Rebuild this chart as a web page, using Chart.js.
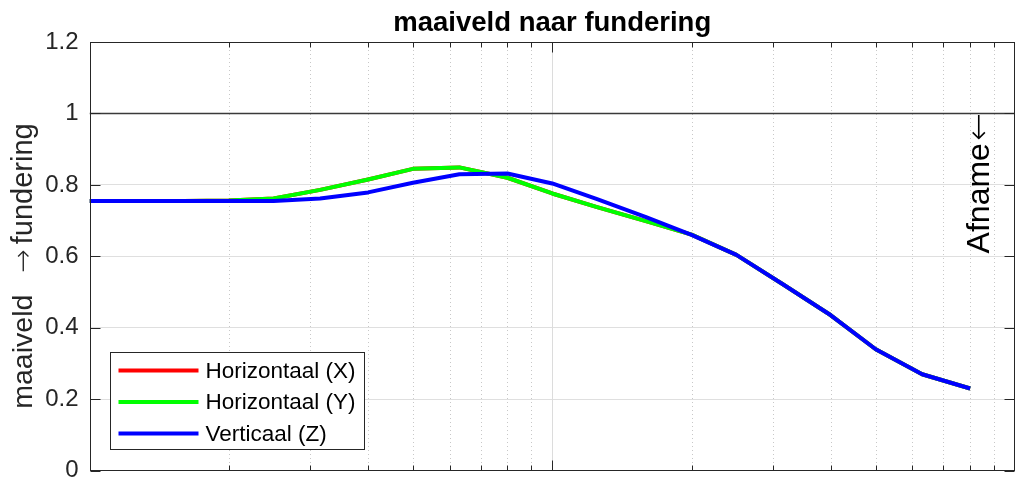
<!DOCTYPE html>
<html>
<head>
<meta charset="utf-8">
<title>maaiveld naar fundering</title>
<script src="https://cdn.jsdelivr.net/npm/chart.js@4.4.0/dist/chart.umd.min.js"></script>
<style>
  html, body { margin: 0; padding: 0; background: #fff; overflow: hidden; }
  #wrap { width: 1015px; height: 484px; }
</style>
</head>
<body>
<div id="wrap"><canvas id="chart" width="1015" height="484"></canvas></div>
<script>
// third-octave band centre frequencies (Hz)
const freqs = [1, 1.25, 1.6, 2, 2.5, 3.15, 4, 5, 6.3, 8, 10, 12.5, 16, 20, 25, 31.5, 40, 50, 63, 80];

// transfer ratio ground level -> foundation, per direction
const horX  = [0.755, 0.755, 0.755, 0.756, 0.762, 0.786, 0.815, 0.845, 0.849, 0.820, 0.776, 0.738, 0.698, 0.661, 0.604, 0.522, 0.435, 0.340, 0.270, 0.230];
const horY  = [0.755, 0.755, 0.755, 0.756, 0.762, 0.786, 0.815, 0.845, 0.849, 0.820, 0.776, 0.738, 0.698, 0.661, 0.604, 0.522, 0.435, 0.340, 0.270, 0.230];
const vertZ = [0.755, 0.755, 0.755, 0.755, 0.755, 0.762, 0.779, 0.806, 0.830, 0.832, 0.804, 0.760, 0.709, 0.660, 0.604, 0.522, 0.435, 0.340, 0.270, 0.230];

const seriesLabels = ['Horizontaal (X)', 'Horizontaal (Y)', 'Verticaal (Z)'];
const seriesColors = ['#ff0000', '#00ff00', '#0000ff'];

const yTicks = [0, 0.2, 0.4, 0.6, 0.8, 1, 1.2];
const xTicks = [1, 2, 3, 4, 5, 6, 7, 8, 9, 10, 20, 30, 40, 50, 60, 70, 80, 90, 100];
const refLevel = 1;          // ratio 1: no amplification
const noteFreq = 83;         // where the "Afname" note sits

const FONT = '"Liberation Sans", Arial, Helvetica, sans-serif';
const ARROW_FONT = '"DejaVu Sans ExtraLight", "DejaVu Sans", sans-serif';
const INK = '#262626';

const pts = ys => freqs.map((f, i) => ({ x: f, y: ys[i] }));

// draw a run of text pieces with their own fonts; {gap} entries add blank space
function drawRun(ctx, parts, x, y, align) {
  const widths = parts.map(p => {
    if (p.gap) return p.gap;
    ctx.font = p.font;
    return ctx.measureText(p.text).width;
  });
  const total = widths.reduce((s, w) => s + w, 0);
  let cx = align === 'center' ? x - total / 2 : align === 'right' ? x - total : x;
  ctx.textAlign = 'left';
  parts.forEach((p, i) => {
    if (!p.gap) {
      ctx.font = p.font;
      ctx.fillText(p.text, cx, y);
    }
    cx += widths[i];
  });
}

// MATLAB style box: dotted minor grid, inward ticks, legend and labels
const matlabAxes = {
  id: 'matlabAxes',
  beforeDatasetsDraw(chart) {
    const { ctx, chartArea: a, scales: { x } } = chart;
    ctx.save();
    ctx.lineWidth = 1;
    x.ticks.forEach(t => {
      const px = Math.round(x.getPixelForValue(t.value)) + 0.5;
      if (px <= a.left + 1 || px >= a.right - 1) return;
      const major = Number.isInteger(Math.log10(t.value));
      ctx.strokeStyle = major ? '#dcdcdc' : '#c8c8c8';
      ctx.setLineDash(major ? [] : [1, 3]);
      ctx.beginPath();
      ctx.moveTo(px, a.top);
      ctx.lineTo(px, a.bottom);
      ctx.stroke();
    });
    ctx.restore();
  },
  afterDatasetsDraw(chart) {
    const { ctx, chartArea: a, scales: { x, y } } = chart;
    const L = Math.round(a.left) + 0.5, R = Math.round(a.right) - 0.5;
    const T = Math.round(a.top) + 0.5, B = Math.round(a.bottom) - 0.5;
    ctx.save();

    // box
    ctx.strokeStyle = INK;
    ctx.lineWidth = 1;
    ctx.strokeRect(L, T, R - L, B - T);

    // inward ticks
    ctx.beginPath();
    y.ticks.forEach(t => {
      const py = Math.round(y.getPixelForValue(t.value)) + 0.5;
      ctx.moveTo(L, py); ctx.lineTo(L + 10, py);
      ctx.moveTo(R, py); ctx.lineTo(R - 10, py);
    });
    x.ticks.forEach(t => {
      const px = Math.round(x.getPixelForValue(t.value)) + 0.5;
      const len = Number.isInteger(Math.log10(t.value)) ? 10 : 5;
      ctx.moveTo(px, B); ctx.lineTo(px, B - len);
      ctx.moveTo(px, T); ctx.lineTo(px, T + len);
    });
    ctx.stroke();

    // title
    ctx.fillStyle = '#000';
    ctx.font = `bold 27.5px ${FONT}`;
    ctx.textAlign = 'center';
    ctx.textBaseline = 'alphabetic';
    ctx.fillText('maaiveld naar fundering', (a.left + a.right) / 2, 31);

    // y axis label
    ctx.save();
    ctx.fillStyle = INK;
    ctx.translate(32, 266);
    ctx.rotate(-Math.PI / 2);
    drawRun(ctx, [
      { text: 'maaiveld', font: `28.5px ${FONT}` },
      { gap: 22 },
      { text: '\u2192', font: `200 28px ${ARROW_FONT}` },
      { gap: 5 },
      { text: 'fundering', font: `29px ${FONT}` }
    ], 0, 0, 'center');
    ctx.restore();

    // note at the reference line
    ctx.save();
    ctx.fillStyle = '#000';
    ctx.translate(x.getPixelForValue(noteFreq) + 11, y.getPixelForValue(refLevel));
    ctx.rotate(-Math.PI / 2);
    ctx.textBaseline = 'alphabetic';
    drawRun(ctx, [
      { text: 'Afname', font: `32px ${FONT}` },
      { gap: 2 },
      { text: '\u2190', font: `200 33px ${ARROW_FONT}` }
    ], 0, 0, 'right');
    ctx.restore();

    // legend
    const lx = 110.5, ly = 352.5, lw = 254, lh = 97;
    ctx.fillStyle = '#fff';
    ctx.fillRect(lx, ly, lw, lh);
    ctx.strokeStyle = INK;
    ctx.lineWidth = 1;
    ctx.strokeRect(lx, ly, lw, lh);
    ctx.font = `22.5px ${FONT}`;
    ctx.textAlign = 'left';
    ctx.textBaseline = 'middle';
    chart.data.datasets.filter(d => d.inLegend).forEach((d, i) => {
      const ry = ly + 18 + i * 31.5;
      ctx.strokeStyle = d.borderColor;
      ctx.lineWidth = 4;
      ctx.beginPath();
      ctx.moveTo(lx + 8, ry);
      ctx.lineTo(lx + 88, ry);
      ctx.stroke();
      ctx.fillStyle = '#000';
      ctx.fillText(d.label, lx + 95, ry + 1);
    });
    ctx.restore();
  }
};

const series = [horX, horY, vertZ].map((ys, i) => ({
  label: seriesLabels[i],
  data: pts(ys),
  borderColor: seriesColors[i],
  borderWidth: 4,
  pointRadius: 0,
  tension: 0,
  borderJoinStyle: 'round',
  order: 3 - i,
  inLegend: true
}));

const refLine = {
  label: 'ref',
  data: [{ x: xTicks[0], y: refLevel }, { x: xTicks[xTicks.length - 1], y: refLevel }],
  borderColor: '#3a3a3a',
  borderWidth: 1.5,
  pointRadius: 0,
  order: 4,
  inLegend: false
};

new Chart(document.getElementById('chart'), {
  type: 'line',
  data: { datasets: [...series, refLine] },
  options: {
    responsive: false,
    animation: false,
    devicePixelRatio: 1,
    events: [],
    layout: { padding: { top: 42, right: 0, bottom: 13.3, left: 0 } },
    plugins: { legend: { display: false }, tooltip: { enabled: false } },
    scales: {
      x: {
        type: 'logarithmic',
        min: xTicks[0],
        max: xTicks[xTicks.length - 1],
        afterBuildTicks: s => { s.ticks = xTicks.map(v => ({ value: v })); },
        afterFit: s => { s.height = 0; s.paddingLeft = 0; s.paddingRight = 0; },
        grid: { display: false },
        border: { display: false },
        ticks: { display: false }
      },
      y: {
        min: yTicks[0],
        max: yTicks[yTicks.length - 1],
        afterBuildTicks: s => { s.ticks = yTicks.map(v => ({ value: v })); },
        afterFit: s => { s.width = 89.5; s.paddingTop = 0; s.paddingBottom = 0; },
        grid: { color: '#dfdfdf', lineWidth: 1, drawTicks: false },
        border: { display: false },
        ticks: {
          padding: 11,
          color: INK,
          font: { family: FONT, size: 24 },
          callback: v => String(v)
        }
      }
    }
  },
  plugins: [matlabAxes]
});
</script>
</body>
</html>
